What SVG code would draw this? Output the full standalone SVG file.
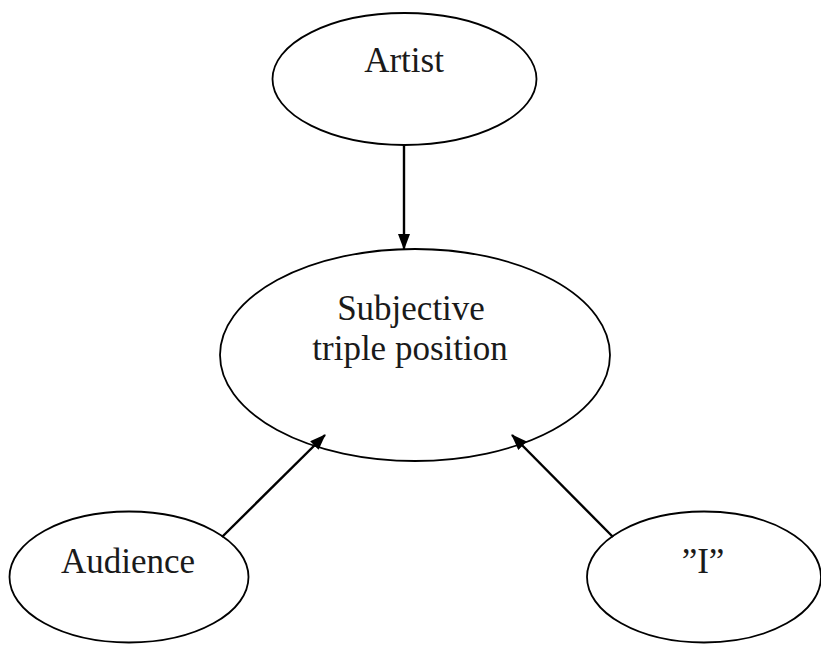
<svg xmlns="http://www.w3.org/2000/svg" width="821" height="645" viewBox="0 0 821 645">
<style>
.node ellipse{fill:#fff;stroke:#000;stroke-width:1.8}
.node text{font-family:"Liberation Serif","Times New Roman",serif;font-size:35px;fill:#1a1a1a;text-anchor:middle}
.conn line{stroke:#000;stroke-width:2.4}
</style>
<defs>
<marker id="arr" markerWidth="16" markerHeight="12" refX="15" refY="6" orient="auto" markerUnits="userSpaceOnUse">
<path d="M0,0 L16,6 L0,12 Z" fill="#000"/>
</marker>
</defs>
<rect width="821" height="645" fill="#fff"/>
<g id="artist" class="node">
<ellipse cx="404.5" cy="79" rx="132" ry="66"/>
<text x="404" y="72">Artist</text>
</g>
<g id="subjective" class="node">
<ellipse cx="415" cy="355" rx="195" ry="106"/>
<text x="411" y="320">Subjective</text>
<text x="410" y="360">triple position</text>
</g>
<g id="audience" class="node">
<ellipse cx="129" cy="577" rx="119.5" ry="65.5"/>
<text x="128" y="573">Audience</text>
</g>
<g id="i" class="node">
<ellipse cx="704" cy="577" rx="117" ry="65.5"/>
<text x="703" y="573">”I”</text>
</g>
<g id="connectors" class="conn">
<line x1="404" y1="145" x2="404" y2="249" marker-end="url(#arr)"/>
<line x1="222" y1="537" x2="325" y2="435" marker-end="url(#arr)"/>
<line x1="613" y1="537" x2="512" y2="435" marker-end="url(#arr)"/>
</g>
</svg>
